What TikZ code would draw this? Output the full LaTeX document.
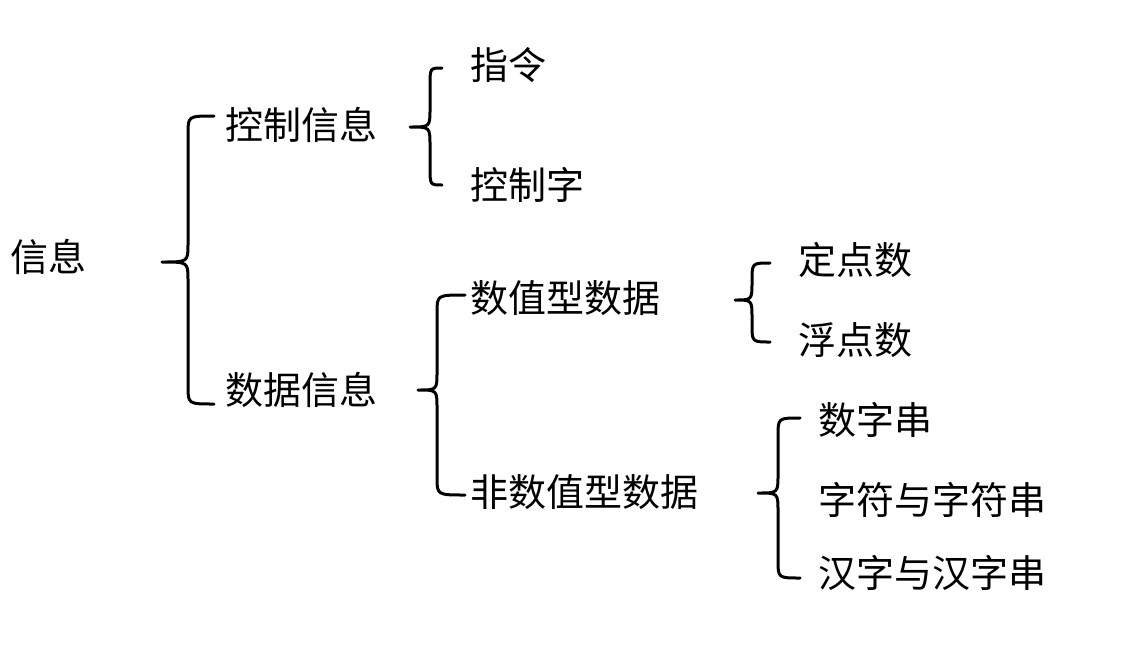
\documentclass[tikz,border=0pt]{standalone}
\usepackage{fontspec}
\setmainfont{Noto Sans CJK SC}
\begin{document}
\begin{tikzpicture}[x=1pt,y=-1pt,
  lbl/.style={anchor=west,inner sep=0pt,font=\fontsize{38}{40}\selectfont},
  br/.style={line width=3pt,line cap=round,line join=round}]
\useasboundingbox (0,0) rectangle (1146,651);
\newcommand\mybrace[6]{% endx, vx, tipx, topy, midy, boty
  \draw[br] (#1,#4) .. controls (#2,#4) .. (#2,#4+18) -- (#2,#5-18)
    .. controls (#2,#5) .. (#3,#5) .. controls (#2,#5) .. (#2,#5+18)
    -- (#2,#6-18) .. controls (#2,#6) .. (#1,#6);}
\node[lbl] (xx) at (10,257) {信息};
\node[lbl] (kz) at (225,125) {控制信息};
\node[lbl] (sj) at (225,390) {数据信息};
\node[lbl] (zl) at (470,65) {指令};
\node[lbl] (kzz) at (470,185) {控制字};
\node[lbl] (szx) at (470,298) {数值型数据};
\node[lbl] (fsz) at (470,492) {非数值型数据};
\node[lbl] (ddd) at (798,260) {定点数};
\node[lbl] (fdd) at (798,340) {浮点数};
\node[lbl] (szc) at (818,420) {数字串};
\node[lbl] (zfc) at (818,500) {字符与字符串};
\node[lbl] (hzc) at (818,573) {汉字与汉字串};
\mybrace{214}{188}{162}{116}{262}{404}
\mybrace{442}{430}{410}{68}{127}{185}
\mybrace{465}{437}{418}{295}{390}{495}
\mybrace{770}{752}{735}{263}{300}{342}
\mybrace{800}{778}{758}{418}{493}{578}
\end{tikzpicture}
\end{document}
